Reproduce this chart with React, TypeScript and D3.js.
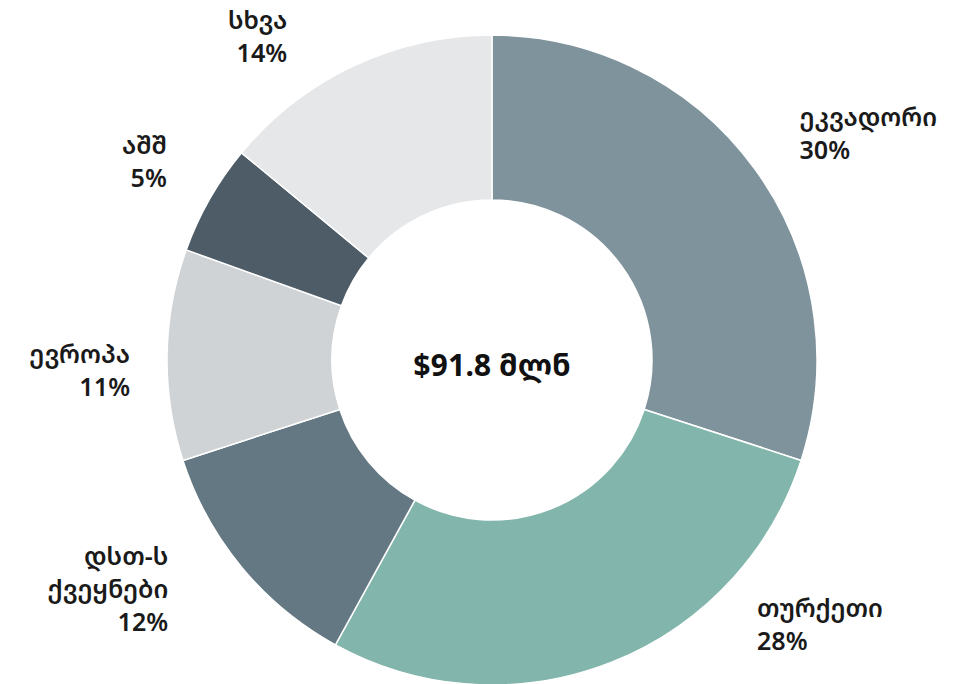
import React from "react";
import * as d3 from "d3";

const categories = ["ეკვადორი", "თურქეთი", "დსთ-ს ქვეყნები", "ევროპა", "აშშ", "სხვა"];
const labelLines = [["ეკვადორი"], ["თურქეთი"], ["დსთ-ს", "ქვეყნები"], ["ევროპა"], ["აშშ"], ["სხვა"]];
const values = [30, 28, 12, 10.5, 5.5, 14];
const percentLabels = ["30%", "28%", "12%", "11%", "5%", "14%"];
const colors = ["#7f939c", "#82b5ab", "#647883", "#d0d3d6", "#4d5c66", "#e6e7e9"];
const centerLabel = "$91.8 მლნ";

// label layout tweaks (dx, dy) relative to mid-angle anchor
const labelShift: [number, number][] = [[0, -4], [125, -90], [-31, -14], [18, 15], [5, -11], [-43, 19]];

const W = 979;
const H = 684;
const cx = 492;
const cy = 360;
const outerR = 325;
const innerR = 160;
const labelR = 380;
const lineH = 33;
const font = "'Noto Sans Georgian', 'DejaVu Sans', sans-serif";

export default function App() {
  const pie = d3.pie<number>().sort(null).value((d) => d);
  const arcs = pie(values);
  const arc = d3.arc<d3.PieArcDatum<number>>().innerRadius(innerR).outerRadius(outerR);

  return (
    <svg width={W} height={H} style={{ position: "absolute", left: 0, top: 0 }}>
      <rect width={W} height={H} fill="#ffffff" />
      <g transform={`translate(${cx},${cy})`}>
        {arcs.map((a, i) => (
          <path key={categories[i]} d={arc(a) || ""} fill={colors[i]} stroke="#ffffff" strokeWidth={1.5} />
        ))}
        <text
          x={0}
          y={4}
          textAnchor="middle"
          dominantBaseline="central"
          fontFamily={font}
          fontWeight={700}
          fontSize={30}
          fill="#111"
        >
          {centerLabel}
        </text>
        {arcs.map((a, i) => {
          const mid = (a.startAngle + a.endAngle) / 2;
          const x = labelR * Math.sin(mid) + labelShift[i][0];
          const y = -labelR * Math.cos(mid) + labelShift[i][1];
          const lines = [...labelLines[i], percentLabels[i]];
          const anchor = Math.sin(mid) >= 0 ? "start" : "end";
          const y0 = y - ((lines.length - 1) * lineH) / 2;
          return (
            <text
              key={"l" + i}
              textAnchor={anchor}
              fontFamily={font}
              fontWeight={600}
              fontSize={25}
              fill="#1a1a1a"
            >
              {lines.map((t, j) => (
                <tspan key={j} x={x} y={y0 + j * lineH} dominantBaseline="central">
                  {t}
                </tspan>
              ))}
            </text>
          );
        })}
      </g>
    </svg>
  );
}
